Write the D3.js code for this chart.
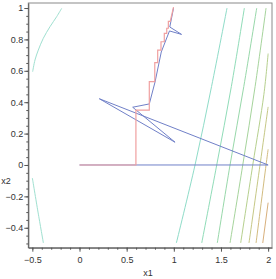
<!DOCTYPE html>
<html><head><meta charset="utf-8">
<script src="https://cdn.jsdelivr.net/npm/d3@7"></script>
<style>html,body{margin:0;padding:0;background:#fff;}svg{display:block;}</style>
</head><body>
<svg id="chart" width="276" height="279"></svg>
<script>
// ---- data ----
const xTicks = [-0.5, 0, 0.5, 1, 1.5, 2];
const yTicks = [-0.4, -0.2, 0, 0.2, 0.4, 0.6, 0.8, 1];
const xLabel = "x1";
const yLabel = "x2";

// contour level curves (x1, x2)
const contourLeftTop = [[-0.497,0.594],[-0.472,0.669],[-0.437,0.732],[-0.384,0.807],[-0.313,0.881],[-0.242,0.945],[-0.189,0.998]];
const contourLeftBottom = [[-0.5,-0.083],[-0.44,-0.30],[-0.383,-0.497]];
const contour1 = [[1.027,-0.497],[1.225,0],[1.40,0.5],[1.564,1.0]];
const contour2 = [[1.296,-0.497],[1.455,0],[1.61,0.5],[1.748,1.0]];
const contour3 = [[1.461,-0.497],[1.596,0],[1.742,0.5],[1.879,1.0]];
const contour4 = [[1.596,-0.497],[1.731,0],[1.862,0.5],[1.978,1.0]];
const contour5 = [[1.709,-0.497],[1.837,0],[1.955,0.45],[2.0,0.71]];
const contour6 = [[1.797,-0.497],[1.914,0],[2.0,0.37]];
const contour7 = [[1.872,-0.497],[1.978,0],[2.0,0.1]];
const contour8 = [[1.943,-0.497],[2.0,-0.24]];
const contourColors = ["#8fdcc8","#90dcb8","#98d8aa","#a6d49c","#b6d08e","#c6c886","#d2bc80","#d8b07c"];

// blue path (iterates)
const bluePath = [[0,0],[2,0],[0.210,0.422],[1.013,0.145],[0.564,0.368],[0.740,0.389],[0.801,0.529],[0.867,0.720],[0.954,0.854],[1.082,0.832],[0.957,0.879],[0.997,1.0]];
// red staircase path
const redPath = [[0,0],[0.598,0],[0.598,0.350],[0.740,0.350],[0.740,0.531],[0.798,0.531],[0.798,0.652],[0.829,0.652],[0.829,0.732],[0.864,0.732],[0.864,0.785],[0.899,0.785],[0.899,0.839],[0.925,0.839],[0.925,0.871],[0.942,0.871],[0.942,0.915],[0.962,0.915],[0.997,1.005]];

// ---- drawing ----
const svg = d3.select("#chart");
const x = d3.scaleLinear().domain([-0.543, 2.041]).range([28.3, 272]);
const y = d3.scaleLinear().domain([-0.527, 1.032]).range([247.7, 3]);

const line = d3.line().x(d => x(d[0])).y(d => y(d[1]));
const smooth = d3.line().x(d => x(d[0])).y(d => y(d[1])).curve(d3.curveCatmullRom);

// frame
svg.append("rect").attr("x", x.range()[0]).attr("y", y.range()[1])
  .attr("width", x.range()[1]-x.range()[0]).attr("height", y.range()[0]-y.range()[1])
  .attr("fill", "none").attr("stroke", "#8a8a8a").attr("stroke-width", 1);

// contours
const contours = [contour1, contour2, contour3, contour4, contour5, contour6, contour7, contour8];
contours.forEach((c, i) => {
  svg.append("path").attr("d", smooth(c)).attr("fill", "none")
    .attr("stroke", contourColors[i]).attr("stroke-width", 1);
});
[contourLeftTop, contourLeftBottom].forEach(c => {
  svg.append("path").attr("d", smooth(c)).attr("fill", "none")
    .attr("stroke", "#9fe0d0").attr("stroke-width", 1);
});

// paths
svg.append("path").attr("d", line(bluePath)).attr("fill", "none")
  .attr("stroke", "#7080c8").attr("stroke-width", 1);
svg.append("path").attr("d", line(redPath)).attr("fill", "none")
  .attr("stroke", "#f0a0a0").attr("stroke-width", 1.2);

// axes
const xAxis = d3.axisBottom(x).tickValues(xTicks).tickSize(4).tickSizeOuter(0).tickFormat(d3.format("~g"));
const xMinor = d3.axisBottom(x).tickValues(d3.range(-0.5, 2.001, 0.1)).tickSize(2).tickFormat("");
const yAxis = d3.axisLeft(y).tickValues(yTicks).tickSize(4).tickSizeOuter(0).tickFormat(d3.format("~g"));
const yMinor = d3.axisLeft(y).tickValues(d3.range(-0.5, 1.001, 0.05)).tickSize(2).tickFormat("");

function styleAxis(g) {
  g.select(".domain").attr("stroke", "#555");
  g.selectAll(".tick line").attr("stroke", "#555");
  g.selectAll(".tick text").attr("fill", "#333").attr("font-family", "Liberation Sans, Arial, sans-serif").attr("font-size", 9);
}
svg.append("g").attr("transform", `translate(0,${y.range()[0]})`).call(xMinor).call(styleAxis).select(".domain").remove();
svg.append("g").attr("transform", `translate(${x.range()[0]},0)`).call(yMinor).call(styleAxis).select(".domain").remove();
const gx = svg.append("g").attr("transform", `translate(0,${y.range()[0]})`).call(xAxis).call(styleAxis);
gx.selectAll(".tick text").attr("dy", "0.9em");
const gy = svg.append("g").attr("transform", `translate(${x.range()[0]},0)`).call(yAxis).call(styleAxis);
gy.selectAll(".tick text").attr("x", -5);

svg.append("text").attr("x", 148).attr("y", 276).attr("text-anchor", "middle")
  .attr("font-family", "Liberation Sans, Arial, sans-serif").attr("font-size", 9).attr("fill", "#333").text(xLabel);
svg.append("text").attr("x", 6).attr("y", 184).attr("text-anchor", "middle")
  .attr("font-family", "Liberation Sans, Arial, sans-serif").attr("font-size", 9).attr("fill", "#333").text(yLabel);
</script>
</body></html>
